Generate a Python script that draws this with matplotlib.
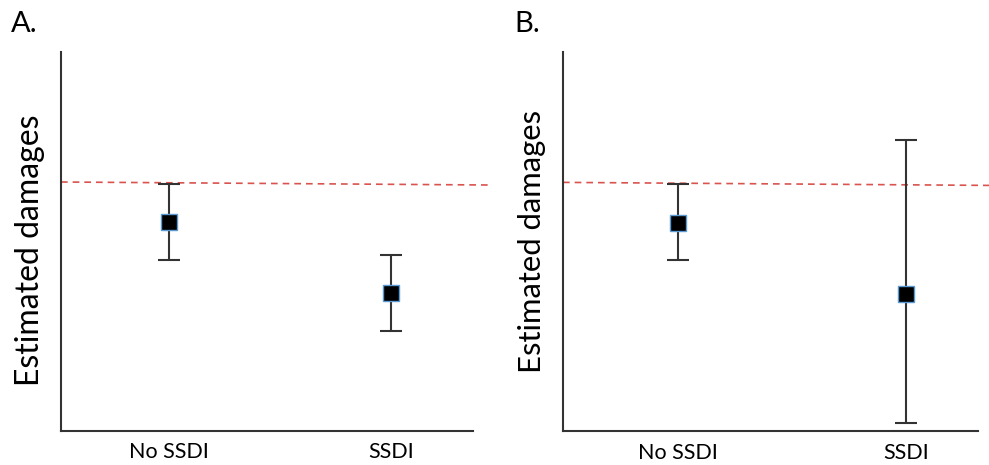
import matplotlib
matplotlib.use("Agg")
import matplotlib.pyplot as plt

plt.rcParams["font.family"] = ["Lato", "DejaVu Sans"]

categories = ["No SSDI", "SSDI"]

# panel A
a_means = [55.1, 36.4]
a_upper = [65.2, 46.4]
a_lower = [45.1, 26.4]
a_reference = [65.7, 64.9]

# panel B
b_means = [55.0, 36.2]
b_upper = [65.1, 76.7]
b_lower = [45.0, 2.1]
b_reference = [65.6, 64.8]

FIG_W, FIG_H = 989, 465


def draw_panel(fig, left_px, right_px, spine_end_px, cat_px, means, upper, lower,
               reference, letter, label_x_px, label_y_px, letter_x_px,
               label_size, tick_pad):
    top_px, bottom_px = 52, 431
    ax = fig.add_axes([
        left_px / FIG_W,
        (FIG_H - bottom_px) / FIG_H,
        (right_px - left_px) / FIG_W,
        (bottom_px - top_px) / FIG_H,
    ])
    # data x positions 0 and 1 map onto the category pixel columns
    unit = cat_px[1] - cat_px[0]
    x0 = (left_px - cat_px[0]) / unit
    x1 = 1 + (right_px - cat_px[1]) / unit
    x_end = 1 + (spine_end_px - cat_px[1]) / unit
    ax.set_xlim(x0, x1)
    ax.set_ylim(0, 100)

    xs = list(range(len(categories)))
    yerr = [
        [m - lo for m, lo in zip(means, lower)],
        [up - m for m, up in zip(means, upper)],
    ]
    ax.plot([x0, x1], reference, linestyle=(0, (4, 3)), color="#d9534f",
            linewidth=1.2, zorder=1, clip_on=False)
    ax.errorbar(xs, means, yerr=yerr, fmt="none", ecolor="#333333",
                elinewidth=1.5, capsize=8, capthick=1.5, zorder=2)
    ax.plot(xs, means, linestyle="none", marker="s", markersize=11.5,
            markerfacecolor="black", markeredgecolor="#5b9bd5",
            markeredgewidth=1.0, zorder=3)

    for side in ["top", "right"]:
        ax.spines[side].set_visible(False)
    for side in ["left", "bottom"]:
        ax.spines[side].set_color("#333333")
        ax.spines[side].set_linewidth(1.5)
    ax.spines["bottom"].set_bounds(x0, x_end)

    ax.set_xticks(xs)
    ax.set_xticklabels(categories, fontsize=15.5)
    ax.tick_params(axis="x", length=0, pad=tick_pad)
    ax.set_yticks([])

    ax.set_ylabel("Estimated damages", fontsize=label_size)
    ax_w = right_px - left_px
    ax_h = bottom_px - top_px
    ax.yaxis.set_label_coords((label_x_px - left_px) / ax_w,
                              (bottom_px - label_y_px) / ax_h)
    ax.yaxis.label.set_verticalalignment("center")

    fig.text(letter_x_px / FIG_W, 1 - 24 / FIG_H, letter, fontsize=21,
             ha="left", va="center")
    return ax


def main() -> None:
    fig = plt.figure(figsize=(FIG_W / 100, FIG_H / 100), dpi=100)

    draw_panel(fig, 61, 492, 473, [169, 391], a_means, a_upper, a_lower,
               a_reference, "A.", 30, 250, 11, 23, 8)
    draw_panel(fig, 563, 989, 978, [678, 906], b_means, b_upper, b_lower,
               b_reference, "B.", 532, 241, 514, 22.3, 8.5)

    fig.savefig("out.png", dpi=100)
    plt.close(fig)


if __name__ == "__main__":
    main()
